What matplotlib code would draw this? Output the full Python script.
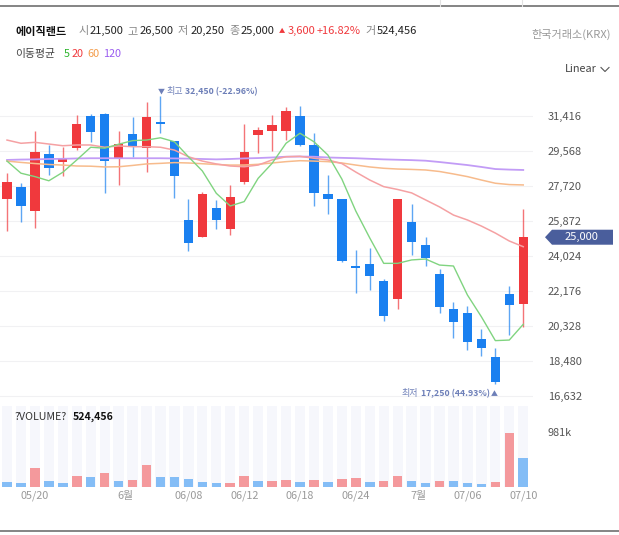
import matplotlib
matplotlib.use("Agg")
import matplotlib.pyplot as plt
from matplotlib.patches import Polygon
from matplotlib.lines import Line2D

plt.rcParams['font.family'] = ['Noto Sans CJK KR', 'DejaVu Sans']

W, H = 619, 535

# daily candles, 2026-05-18 .. 2026-07-10
opens = [27000, 27650, 26400, 29400, 28950, 29700, 31400, 31500, 29150, 30450,
         29700, 31100, 30100, 25900, 25000, 26550, 25450, 27900, 30400, 30600,
         30600, 31400, 29850, 27300, 27000, 23500, 23600, 22700, 21750, 25800,
         24600, 23050, 21200, 21000, 19650, 18650, 22000, 21500]
highs = [28400, 27850, 30600, 29850, 29750, 31450, 31500, 31550, 30600, 31350,
         32150, 32450, 30100, 27000, 27400, 26950, 27750, 31000, 30800, 31450,
         31850, 31950, 30500, 28300, 27000, 24300, 24450, 22800, 27000, 26750,
         25000, 23300, 21600, 21350, 20150, 19150, 22450, 26500]
lows = [25350, 25800, 25500, 28300, 28250, 29600, 30050, 27350, 27750, 29250,
        28450, 30500, 27050, 24250, 25000, 25450, 25100, 27800, 29450, 29550,
        30150, 29800, 26650, 26250, 23700, 22050, 22200, 20550, 21200, 24050,
        23500, 21000, 19700, 19050, 18750, 17250, 19850, 20250]
closes = [27900, 26650, 29500, 28650, 29150, 31000, 30550, 29000, 29900, 29800,
          31350, 31000, 28250, 24700, 27300, 25900, 27100, 29500, 30650, 30950,
          31650, 29850, 27350, 27000, 23750, 23350, 22950, 20850, 27000, 24750,
          23900, 21300, 20500, 19450, 19150, 17350, 21400, 25000]
volumes = [79000, 61000, 345000, 109000, 61000, 194000, 176000, 242000, 109000, 127000,
           388000, 178000, 174000, 139000, 79000, 60000, 63000, 194000, 97000, 109000,
           127000, 79000, 127000, 79000, 145000, 157000, 79000, 97000, 194000, 109000,
           61000, 99000, 95000, 61000, 42000, 79000, 981000, 524456]

ma5 = [29020, 28380, 28200, 27980, 28430, 29080, 29750, 29700, 29910, 30100,
       30130, 30250, 30040, 29250, 28500, 27320, 26650, 26880, 28110, 28900,
       29960, 30490, 30040, 29340, 28070, 26380, 24960, 23620, 23620, 23800,
       23850, 23530, 23480, 21950, 20800, 19540, 19570, 20400]
ma20 = [30130, 29960, 30010, 29920, 29830, 29870, 29870, 29750, 29820, 29780,
        29780, 29750, 29600, 29250, 29020, 28870, 28760, 28720, 28810, 29080,
        29250, 29270, 29170, 29080, 28890, 28440, 28020, 27670, 27520, 27340,
        26970, 26600, 26170, 25910, 25590, 25220, 24800, 24500]
ma60 = [29020, 28950, 28890, 28840, 28810, 28760, 28750, 28710, 28720, 28790,
        28870, 28900, 28940, 28920, 28880, 28840, 28810, 28810, 28850, 28920,
        28990, 29040, 29020, 28990, 28920, 28810, 28710, 28640, 28600, 28580,
        28550, 28470, 28340, 28200, 28020, 27850, 27780, 27760]
ma120 = [29080, 29100, 29110, 29130, 29140, 29160, 29170, 29170, 29170, 29170,
         29170, 29170, 29160, 29150, 29130, 29110, 29130, 29160, 29180, 29210,
         29250, 29260, 29250, 29210, 29190, 29170, 29140, 29110, 29090, 29070,
         29040, 28970, 28890, 28810, 28710, 28600, 28570, 28550]

price_ticks = [16632, 18480, 20328, 22176, 24024, 25872, 27720, 29568, 31416]
date_ticks = [2, 8.5, 13, 17, 21, 25, 29.5, 33, 37]
date_labels = ["05/20", "6월", "06/08", "06/12", "06/18", "06/24", "7월", "07/06", "07/10"]

RED = '#f0393d'
BLUE = '#1a80f0'


def fx(x):
    return x / W


def fy(y):
    return 1 - y / H


fig = plt.figure(figsize=(W / 100, H / 100), dpi=100)
fig.patch.set_facecolor('white')

n = len(closes)
idx = list(range(n))
xlim = (-0.502, 37.7)

# ---- price panel
ax = fig.add_axes([0, fy(400), 533 / W, 320 / H])
ax.set_xlim(*xlim)
ax.set_ylim(16405, 33301)
for s in ax.spines.values():
    s.set_visible(False)
ax.set_xticks([])
ax.set_yticks(price_ticks)
ax.set_yticklabels([f"{t:,}" for t in price_ticks])
ax.yaxis.tick_right()
ax.tick_params(axis='y', length=0, pad=10.8, labelsize=8, labelcolor='#555555')
ax.grid(axis='y', color='#f1f1f3', lw=0.8)
ax.set_axisbelow(True)

up = [c >= o for o, c in zip(opens, closes)]
cols = [RED if u else BLUE for u in up]
ax.vlines(idx, lows, highs, colors=cols, lw=1.0, alpha=0.7, zorder=2)
bottoms = [min(o, c) for o, c in zip(opens, closes)]
heights = [max(abs(c - o), 60) for o, c in zip(opens, closes)]
ax.bar(idx, heights, 0.67, bottom=bottoms, color=cols, zorder=3)

ax.plot(idx, ma120, color='#c29cf6', lw=1.3, zorder=4)
ax.plot(idx, ma60, color='#f7bb8c', lw=1.1, zorder=4)
ax.plot(idx, ma20, color='#f5a1a3', lw=1.1, zorder=4)
ax.plot(idx, ma5, color='#80d480', lw=1.0, zorder=4)

# high / low marks
hi = highs.index(max(highs))
lo = lows.index(min(lows))
ann = '#6d7fb8'
pt = 0.72
ax.annotate("▼", xy=(hi, highs[hi]), xytext=(-2.7 * pt, 4.6 * pt), textcoords='offset points',
            ha='left', va='center', fontsize=5, color=ann)
ax.annotate("최고", xy=(hi, highs[hi]), xytext=(6 * pt, 4.6 * pt), textcoords='offset points',
            ha='left', va='center', fontsize=6.5, color=ann)
ax.annotate(f"{max(highs):,} ({closes[-1] / max(highs) * 100 - 100:.2f}%)", xy=(hi, highs[hi]),
            xytext=(25 * pt, 4.6 * pt), textcoords='offset points',
            ha='left', va='center', fontsize=6.3, color=ann, fontweight='bold')
ax.annotate("▲", xy=(lo, lows[lo]), xytext=(2.3 * pt, -10 * pt), textcoords='offset points',
            ha='right', va='center', fontsize=5, color=ann)
ax.annotate(f"{min(lows):,} ({closes[-1] / min(lows) * 100 - 100:.2f}%)", xy=(lo, lows[lo]),
            xytext=(-5 * pt, -10 * pt), textcoords='offset points',
            ha='right', va='center', fontsize=6.3, color=ann, fontweight='bold')
ax.annotate("최저", xy=(lo, lows[lo]), xytext=(-77 * pt, -10 * pt), textcoords='offset points',
            ha='right', va='center', fontsize=6.5, color=ann)

# ---- volume panel
vax = fig.add_axes([0, fy(486.7), 533 / W, 80.7 / H])
vmax = 1466000
vax.set_xlim(*xlim)
vax.set_ylim(0, vmax)
for s in vax.spines.values():
    s.set_visible(False)
vax.set_yticks([])
vax.bar(idx, [vmax] * n, 0.74, color='#f6f7fc', zorder=1)
vcols = ['#84bdf6'] + ['#f4999c' if volumes[i] > volumes[i - 1] else '#84bdf6' for i in range(1, n)]
vax.bar(idx, volumes, 0.68, color=vcols, zorder=2)
vax.set_xticks(date_ticks)
vax.set_xticklabels(date_labels)
vax.tick_params(axis='x', length=0, pad=3, labelsize=7.8, labelcolor='#9a9a9a')

fig.text(fx(548), fy(432.7), f"{max(volumes) // 1000:,}k", ha='left', va='center', fontsize=7.8, color='#555555')
fig.text(fx(15), fy(416.7), "?VOLUME?", ha='left', va='center', fontsize=7.6, color='#333333')
fig.text(fx(73), fy(416.7), f"{volumes[-1]:,}", ha='left', va='center', fontsize=7.6, color='#111111', fontweight='bold')

# last price tag
yd = H - ax.transData.transform((0, closes[-1]))[1]
tag = Polygon([(fx(545), fy(yd)), (fx(552), fy(yd - 7.5)), (fx(613), fy(yd - 7.5)),
               (fx(613), fy(yd + 7.5)), (fx(552), fy(yd + 7.5))],
              closed=True, transform=fig.transFigure, fc='#4a5e9c', ec='none')
fig.add_artist(tag)
fig.text(fx(581), fy(yd), f"{closes[-1]:,}", ha='center', va='center', fontsize=8, color='white')

# ---- header
hy = 31
fig.text(fx(15), fy(hy), "에이직랜드", ha='left', va='center', fontsize=8, fontweight='bold', color='#111111')
parts = [(78, "시", '#888888'), (90, f"{opens[-1]:,}", '#222222'),
         (127, "고", '#888888'), (140, f"{highs[-1]:,}", '#222222'),
         (178, "저", '#888888'), (191, f"{lows[-1]:,}", '#222222'),
         (229, "종", '#888888'), (241, f"{closes[-1]:,}", '#222222'),
         (288, f"{closes[-1] - closes[-2]:,}", RED),
         (317, f"+{(closes[-1] / closes[-2] - 1) * 100:.2f}%", RED),
         (365, "거", '#888888'), (377, f"{volumes[-1]:,}", '#222222')]
for x, t, c in parts:
    fig.text(fx(x), fy(hy), t, ha='left', va='center', fontsize=8, color=c)
fig.text(fx(278.5), fy(hy), "▲", ha='left', va='center', fontsize=4.5, color=RED)
fig.text(fx(611), fy(34), "한국거래소(KRX)", ha='right', va='center', fontsize=8, color='#999999')

my = 54
fig.text(fx(15), fy(my), "이동평균", ha='left', va='center', fontsize=7.8, color='#444444')
for x, t, c in [(64, "5", '#2db52d'), (72, "20", '#f0383c'), (87, "60", '#f39c4a'), (103, "120", '#9a5cf0')]:
    fig.text(fx(x), fy(my), t, ha='left', va='center', fontsize=7.8, color=c)

fig.text(fx(565), fy(69), "Linear", ha='left', va='center', fontsize=7.8, color='#444444')
fig.add_artist(Line2D([fx(601), fx(605), fx(609)], [fy(67.5), fy(71.5), fy(67.5)],
                      color='#555555', lw=0.8, transform=fig.transFigure))

# frame lines
fig.add_artist(Line2D([0, 1], [fy(6), fy(6)], color='#707070', lw=1.2, transform=fig.transFigure))
for x in (440, 522):
    fig.add_artist(Line2D([fx(x), fx(x)], [fy(0), fy(6)], color='#e2e2e2', lw=0.8, transform=fig.transFigure))
fig.add_artist(Line2D([0, 1], [fy(531), fy(531)], color='#707070', lw=1.2, transform=fig.transFigure))

fig.savefig("out.png", dpi=100)
